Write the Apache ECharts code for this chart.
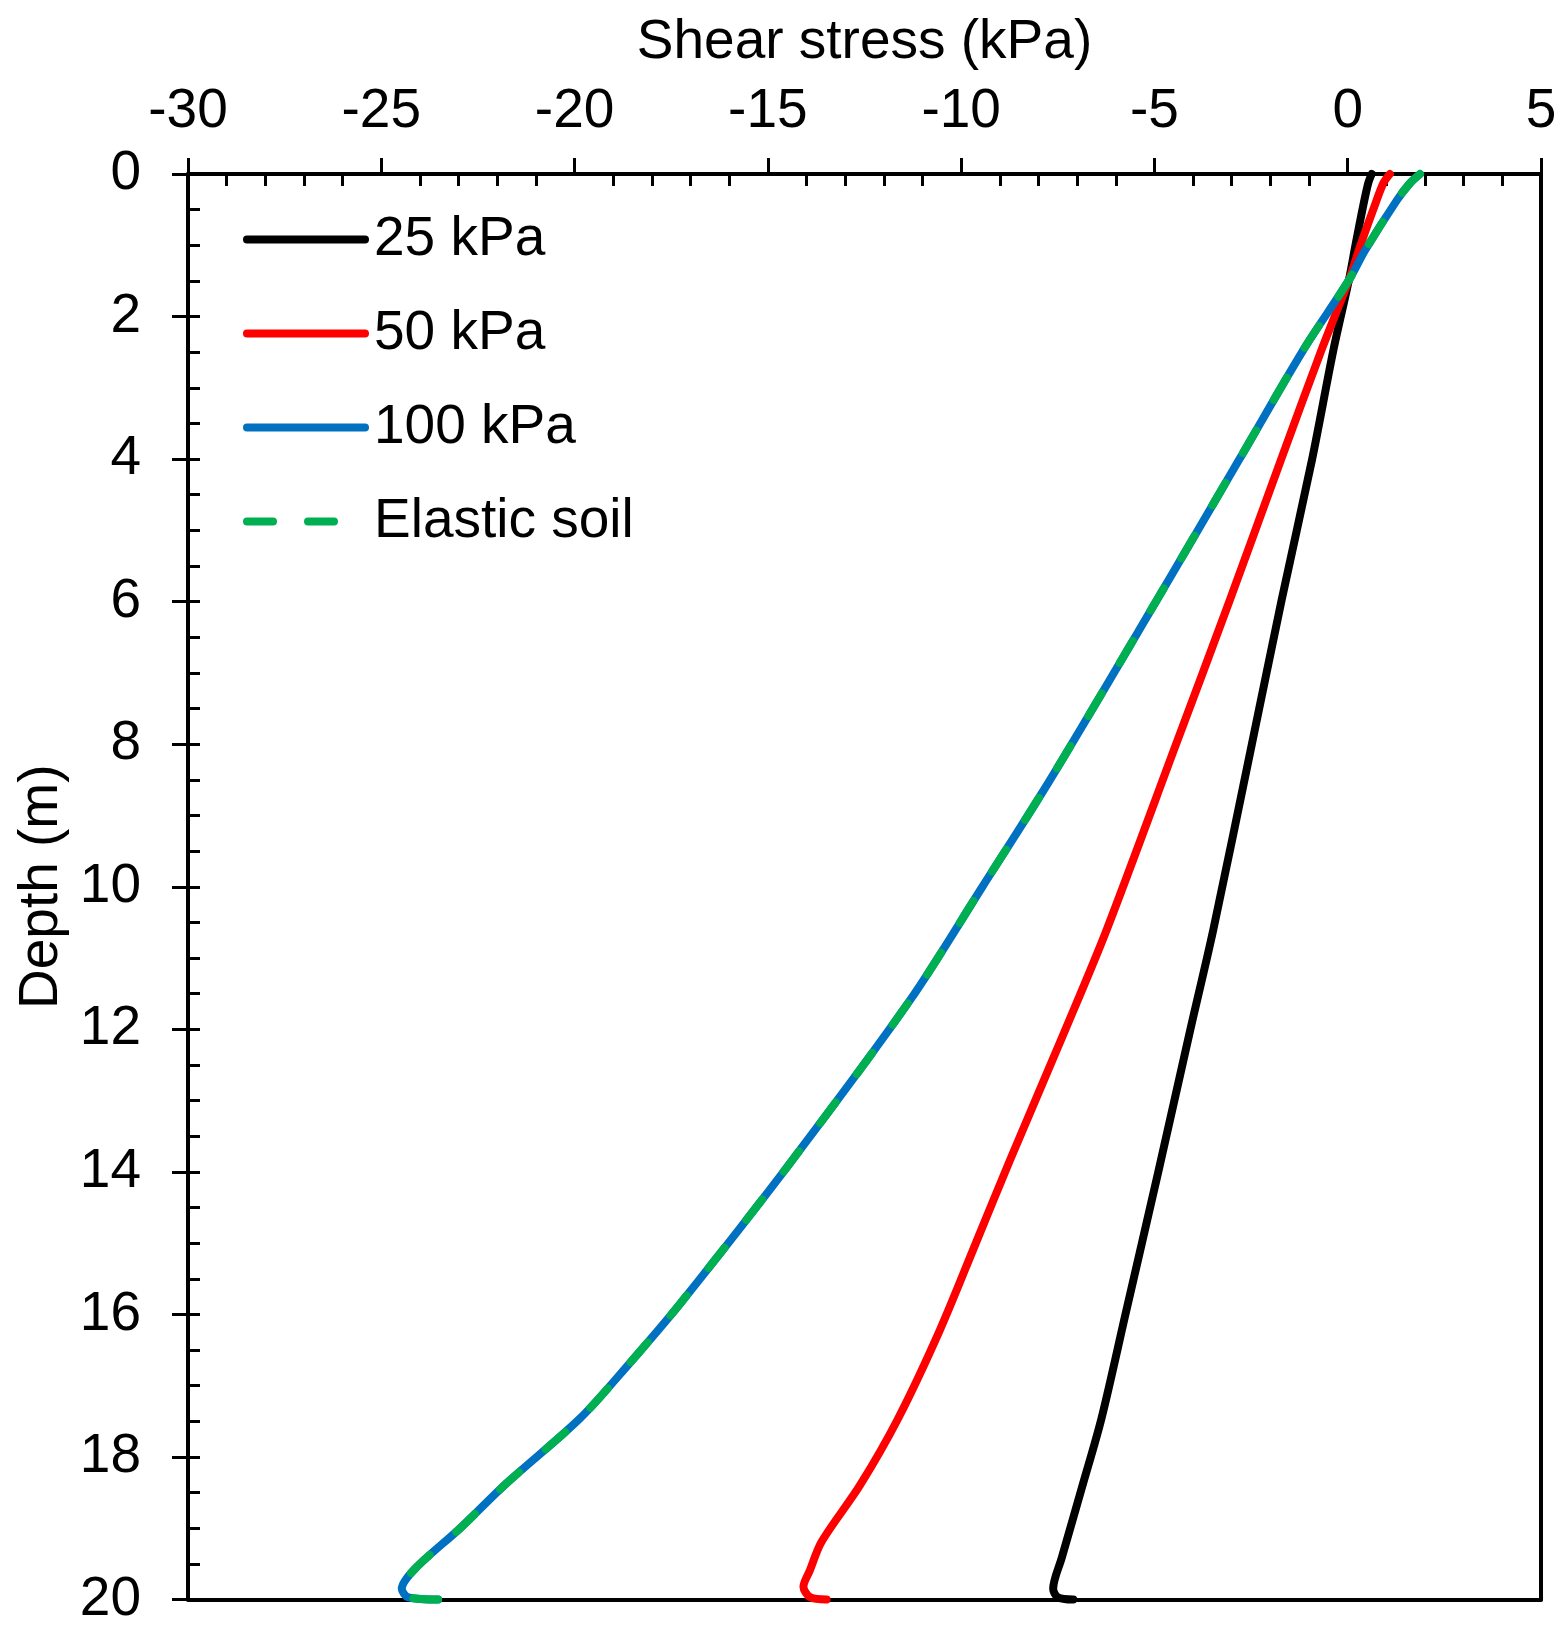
<!DOCTYPE html>
<html>
<head>
<meta charset="utf-8">
<script src="https://cdn.jsdelivr.net/npm/echarts@6/dist/echarts.min.js"></script>
<style>
html,body{margin:0;padding:0;background:#fff;}
#chart{width:1567px;height:1627px;}
</style>
</head>
<body>
<div id="chart"></div>
<script>
// ---- data ----
const seriesNames = ['25 kPa', '50 kPa', '100 kPa', 'Elastic soil'];
const xTicks = [-30, -25, -20, -15, -10, -5, 0, 5];
const yTicks = [0, 2, 4, 6, 8, 10, 12, 14, 16, 18, 20];

const depth25  = [0, 0.13, 0.5, 1.0, 1.49, 2.47, 4, 5.98, 8, 10.61, 12, 14, 16, 17.46, 18.4, 19.42, 19.85, 19.97, 20];
const stress25 = [0.62, 0.53, 0.38, 0.2, 0.03, -0.37, -0.92, -1.71, -2.48, -3.48, -4.07, -4.9, -5.75, -6.37, -6.86, -7.40, -7.62, -7.5, -7.10];

const depth50  = [0, 0.13, 0.5, 1.0, 1.49, 2.47, 4, 5.98, 8, 10.61, 12, 13.84, 15, 16.22, 17.46, 18.4, 19.19, 19.6, 19.82, 19.97, 20];
const stress50 = [1.09, 0.92, 0.66, 0.33, 0.03, -0.68, -1.72, -3.05, -4.44, -6.24, -7.3, -8.74, -9.62, -10.55, -11.63, -12.62, -13.61, -13.92, -14.08, -13.9, -13.48];

const depth100  = [0, 0.13, 0.37, 1.07, 1.49, 2.47, 4, 5.98, 8.5, 10, 11.59, 13.88, 15.85, 16.7, 17.46, 18.37, 19.0, 19.57, 19.85, 19.97, 20];
const stress100 = [1.87, 1.61, 1.27, 0.45, 0.03, -1.15, -2.8, -4.94, -7.70, -9.45, -11.32, -14.43, -17.27, -18.6, -19.86, -21.76, -22.96, -24.13, -24.47, -24.3, -23.53];

const depthElastic  = [0, 0.13, 0.37, 1.07, 1.49, 2.47, 4, 5.98, 8.5, 10, 11.59, 13.88, 15.85, 16.7, 17.46, 18.37, 19.0, 19.57, 19.85, 19.97, 20];
const stressElastic = [1.87, 1.61, 1.27, 0.45, 0.03, -1.15, -2.8, -4.94, -7.70, -9.45, -11.32, -14.43, -17.27, -18.6, -19.86, -21.76, -22.96, -24.13, -24.47, -24.3, -23.53];

// ---- build ----
function pairs(xs, ys) { return xs.map((x, i) => [x, ys[i]]); }
const FONT = 'Liberation Sans, Arial, Helvetica, sans-serif';
const FS = 55;
const LW = 8;
const xMin = xTicks[0], xMax = xTicks[xTicks.length - 1], xStep = xTicks[1] - xTicks[0];
const yMin = yTicks[0], yMax = yTicks[yTicks.length - 1], yStep = yTicks[1] - yTicks[0];

const chart = echarts.init(document.getElementById('chart'), null, {renderer: 'canvas'});

const lineBase = (name, data, color, dash) => ({
  name: name,
  type: 'line',
  data: data,
  xAxisIndex: 0,
  yAxisIndex: 0,
  symbol: 'none',
  showSymbol: false,
  smooth: 0.3,
  clip: false,
  lineStyle: {color: color, width: LW, type: dash ? [26, 35] : 'solid', cap: 'round', join: 'round'},
  itemStyle: {color: color},
  emphasis: {disabled: true},
  animation: false
});

const option = {
  animation: false,
  backgroundColor: '#ffffff',
  textStyle: {fontFamily: FONT},
  grid: {left: 188, right: 26, top: 174, bottom: 24, containLabel: false},
  legend: {
    data: seriesNames,
    orient: 'vertical',
    left: 243,
    top: 212,
    padding: 0,
    itemWidth: 118,
    itemHeight: 20,
    itemGap: 39,
    lineStyle: {width: LW},
    itemStyle: {opacity: 0},
    textStyle: {fontFamily: FONT, fontSize: FS, color: '#000', padding: [0, 0, 0, 4]},
    selectedMode: false
  },
  xAxis: [
    {
      type: 'value', position: 'top', min: xMin, max: xMax, interval: xStep,
      name: 'Shear stress (kPa)', nameLocation: 'middle', nameGap: 104,
      nameTextStyle: {fontFamily: FONT, fontSize: FS, color: '#000'},
      axisLine: {show: true, onZero: false, lineStyle: {color: '#000', width: 4}},
      axisTick: {show: true, inside: false, length: 16, lineStyle: {color: '#000', width: 3}},
      axisLabel: {show: true, margin: 35, fontFamily: FONT, fontSize: FS, color: '#000'},
      splitLine: {show: false}
    },
    {
      type: 'value', position: 'top', min: xMin, max: xMax, interval: xStep,
      axisLine: {show: false, onZero: false},
      axisTick: {show: false, inside: true},
      minorTick: {show: true, splitNumber: 5, length: 12, lineStyle: {color: '#000', width: 3}},
      axisLabel: {show: false},
      splitLine: {show: false}
    },
    {
      type: 'value', position: 'bottom', min: xMin, max: xMax, interval: xStep,
      axisLine: {show: true, onZero: false, lineStyle: {color: '#000', width: 4}},
      axisTick: {show: false},
      axisLabel: {show: false},
      splitLine: {show: false}
    }
  ],
  yAxis: [
    {
      type: 'value', position: 'left', inverse: true, min: yMin, max: yMax, interval: yStep,
      name: 'Depth (m)', nameLocation: 'middle', nameGap: 118,
      nameTextStyle: {fontFamily: FONT, fontSize: FS, color: '#000'},
      axisLine: {show: true, onZero: false, lineStyle: {color: '#000', width: 4}},
      axisTick: {show: true, inside: false, length: 16, lineStyle: {color: '#000', width: 3}},
      axisLabel: {show: true, margin: 47, fontFamily: FONT, fontSize: FS, color: '#000'},
      splitLine: {show: false}
    },
    {
      type: 'value', position: 'left', inverse: true, min: yMin, max: yMax, interval: yStep,
      axisLine: {show: false, onZero: false},
      axisTick: {show: true, inside: true, length: 12, lineStyle: {color: '#000', width: 3}},
      minorTick: {show: true, splitNumber: 4, length: 12, lineStyle: {color: '#000', width: 3}},
      axisLabel: {show: false},
      splitLine: {show: false}
    },
    {
      type: 'value', position: 'right', inverse: true, min: yMin, max: yMax, interval: yStep,
      axisLine: {show: true, onZero: false, lineStyle: {color: '#000', width: 4}},
      axisTick: {show: false},
      axisLabel: {show: false},
      splitLine: {show: false}
    }
  ],
  series: [
    lineBase(seriesNames[0], pairs(stress25, depth25), '#000000', false),
    lineBase(seriesNames[1], pairs(stress50, depth50), '#FF0000', false),
    lineBase(seriesNames[2], pairs(stress100, depth100), '#0070C0', false),
    lineBase(seriesNames[3], pairs(stressElastic, depthElastic), '#00B050', true)
  ]
};
chart.setOption(option);
</script>
</body>
</html>
